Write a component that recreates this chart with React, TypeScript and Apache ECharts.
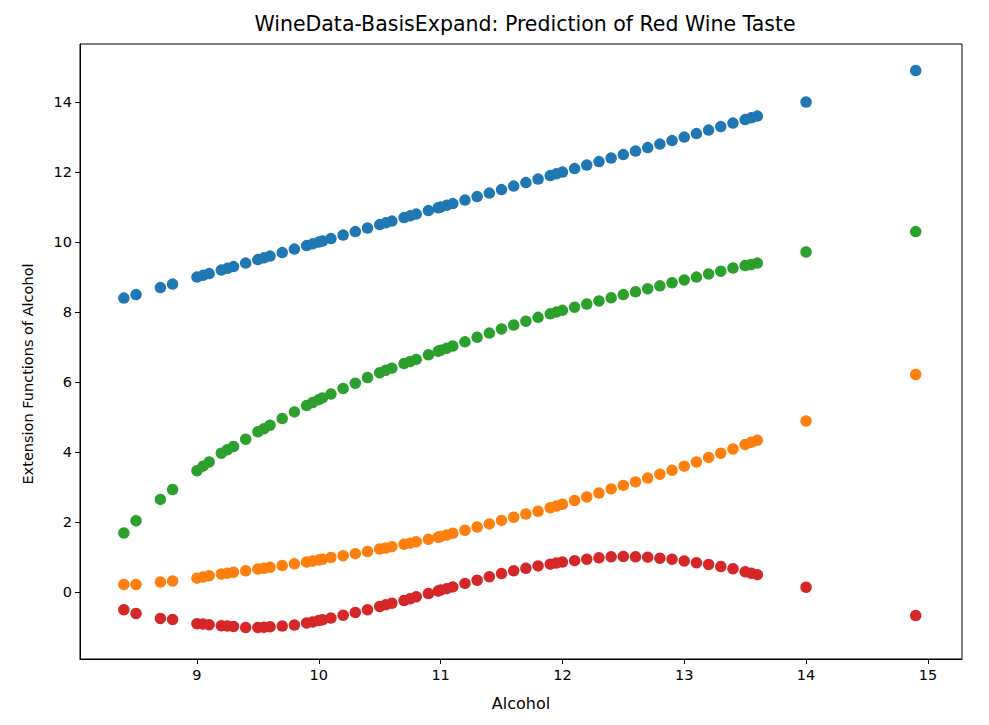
import React, { useEffect, useRef } from "react";
import * as echarts from "echarts";

const alcohol = [8.4, 8.5, 8.7, 8.8, 9.0, 9.05, 9.1, 9.2, 9.25, 9.3, 9.4, 9.5, 9.55, 9.6, 9.7, 9.8, 9.9, 9.95, 10.0, 10.03, 10.1, 10.2, 10.3, 10.4, 10.5, 10.55, 10.6, 10.7, 10.75, 10.8, 10.9, 10.98, 11.0, 11.05, 11.1, 11.2, 11.3, 11.4, 11.5, 11.6, 11.7, 11.8, 11.9, 11.95, 12.0, 12.1, 12.2, 12.3, 12.4, 12.5, 12.6, 12.7, 12.8, 12.9, 13.0, 13.1, 13.2, 13.3, 13.4, 13.5, 13.55, 13.6, 14.0, 14.9];

const basis1 = [8.4, 8.5, 8.7, 8.8, 9.0, 9.05, 9.1, 9.2, 9.25, 9.3, 9.4, 9.5, 9.55, 9.6, 9.7, 9.8, 9.9, 9.95, 10.0, 10.03, 10.1, 10.2, 10.3, 10.4, 10.5, 10.55, 10.6, 10.7, 10.75, 10.8, 10.9, 10.98, 11.0, 11.05, 11.1, 11.2, 11.3, 11.4, 11.5, 11.6, 11.7, 11.8, 11.9, 11.95, 12.0, 12.1, 12.2, 12.3, 12.4, 12.5, 12.6, 12.7, 12.8, 12.9, 13.0, 13.1, 13.2, 13.3, 13.4, 13.5, 13.55, 13.6, 14.0, 14.9];

const basis2 = [0.22, 0.22, 0.29, 0.32, 0.40, 0.43, 0.47, 0.52, 0.54, 0.57, 0.61, 0.66, 0.68, 0.71, 0.76, 0.81, 0.86, 0.89, 0.92, 0.94, 0.99, 1.04, 1.10, 1.16, 1.23, 1.26, 1.30, 1.37, 1.40, 1.44, 1.51, 1.57, 1.59, 1.63, 1.68, 1.77, 1.86, 1.95, 2.05, 2.14, 2.23, 2.31, 2.41, 2.46, 2.51, 2.62, 2.72, 2.83, 2.95, 3.05, 3.15, 3.26, 3.37, 3.48, 3.60, 3.72, 3.85, 3.97, 4.09, 4.22, 4.28, 4.34, 4.89, 6.22];

const basis3 = [1.69, 2.04, 2.65, 2.93, 3.47, 3.60, 3.72, 3.97, 4.07, 4.16, 4.37, 4.58, 4.67, 4.77, 4.96, 5.15, 5.33, 5.42, 5.50, 5.55, 5.66, 5.82, 5.97, 6.13, 6.27, 6.34, 6.40, 6.53, 6.59, 6.65, 6.78, 6.88, 6.91, 6.97, 7.03, 7.15, 7.28, 7.40, 7.52, 7.63, 7.74, 7.85, 7.95, 8.00, 8.05, 8.14, 8.23, 8.32, 8.41, 8.50, 8.58, 8.67, 8.75, 8.84, 8.92, 9.00, 9.09, 9.17, 9.26, 9.33, 9.36, 9.40, 9.72, 10.30];

const basis4 = [-0.50, -0.61, -0.75, -0.78, -0.90, -0.91, -0.93, -0.96, -0.97, -0.98, -1.01, -1.01, -1.00, -0.99, -0.97, -0.94, -0.88, -0.85, -0.81, -0.79, -0.74, -0.66, -0.58, -0.50, -0.41, -0.36, -0.32, -0.24, -0.19, -0.13, -0.04, 0.03, 0.06, 0.10, 0.15, 0.25, 0.34, 0.44, 0.53, 0.61, 0.68, 0.75, 0.80, 0.83, 0.86, 0.90, 0.94, 0.98, 1.01, 1.02, 1.01, 1.00, 0.97, 0.94, 0.89, 0.84, 0.79, 0.73, 0.67, 0.58, 0.54, 0.50, 0.14, -0.67];

const xTicks = [9, 10, 11, 12, 13, 14, 15];
const yTicks = [0, 2, 4, 6, 8, 10, 12, 14];

const seriesColors = ["#1f77b4", "#ff7f0e", "#2ca02c", "#d62728"];
const seriesValues = [basis1, basis2, basis3, basis4];

const FONT = "DejaVu Sans";

export default function App() {
  const ref = useRef<HTMLDivElement>(null);
  useEffect(() => {
    if (!ref.current) return;
    const chart = echarts.init(ref.current, null, { renderer: "svg" });
    chart.setOption({
      animation: false,
      backgroundColor: "#ffffff",
      title: {
        text: "WineData-BasisExpand: Prediction of Red Wine Taste",
        left: 520,
        textAlign: "center",
        top: 8,
        textStyle: { fontFamily: FONT, fontSize: 20.5, fontWeight: "normal", color: "#000" },
      },
      graphic: [
        {
          type: "text",
          x: 28,
          y: 374,
          rotation: Math.PI / 2,
          style: {
            text: "Extension Functions of Alcohol",
            fontFamily: FONT,
            fontSize: 14.5,
            fill: "#000",
            align: "center",
            verticalAlign: "middle",
          },
        },
      ],
      grid: {
        left: 80,
        right: 27,
        top: 44,
        bottom: 66,
        show: true,
        borderColor: "#000",
        borderWidth: 1,
        backgroundColor: "transparent",
      },
      xAxis: {
        type: "value",
        min: 8.04,
        max: 15.28,
        name: "Alcohol",
        nameLocation: "middle",
        nameGap: 36,
        nameTextStyle: { fontFamily: FONT, fontSize: 16, color: "#000" },
        axisLine: { show: true, onZero: false, lineStyle: { color: "#000", width: 1 } },
        axisTick: { show: true, length: 5, inside: false, customValues: xTicks, lineStyle: { color: "#000" } },
        axisLabel: { customValues: xTicks, margin: 8, fontFamily: FONT, fontSize: 14.5, color: "#000" },
        splitLine: { show: false },
      },
      yAxis: {
        type: "value",
        min: -1.91,
        max: 15.66,
        axisLine: { show: true, onZero: false, lineStyle: { color: "#000", width: 1 } },
        axisTick: { show: true, length: 5, inside: false, customValues: yTicks, lineStyle: { color: "#000" } },
        axisLabel: { customValues: yTicks, margin: 8, fontFamily: FONT, fontSize: 14.5, color: "#000" },
        splitLine: { show: false },
      },
      series: seriesValues.map((vals, i) => ({
        type: "scatter",
        symbol: "circle",
        symbolSize: 11.5,
        itemStyle: { color: seriesColors[i], opacity: 1 },
        data: alcohol.map((x, j) => [x, vals[j]]),
      })),
    });
    return () => chart.dispose();
  }, []);
  return (
    <div
      ref={ref}
      style={{ position: "fixed", left: 0, top: 0, width: 989, height: 725, background: "#fff" }}
    />
  );
}
